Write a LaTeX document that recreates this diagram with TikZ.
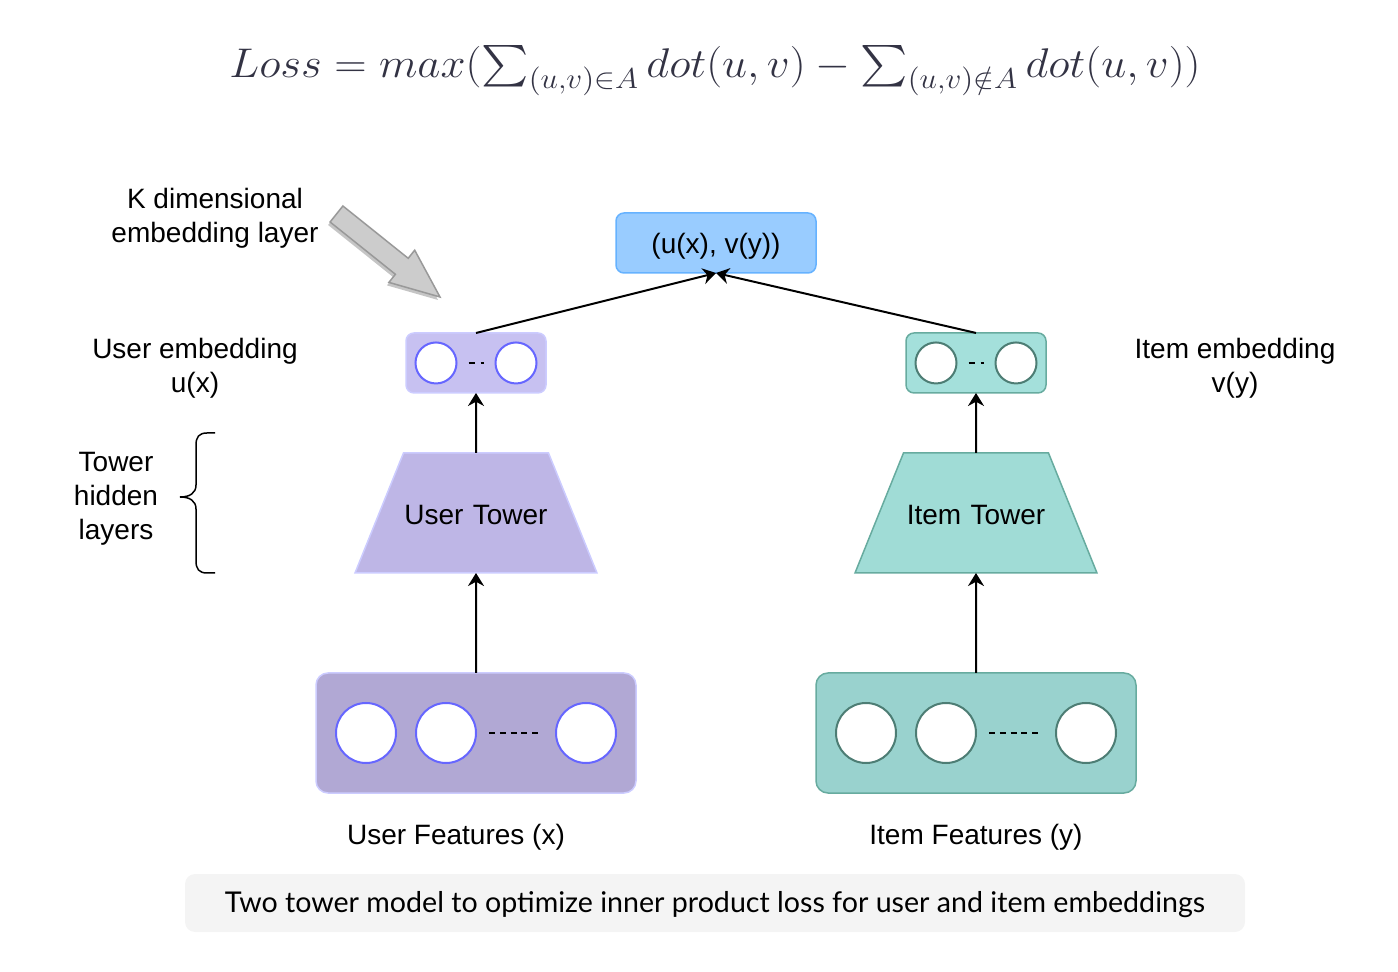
\documentclass[tikz,border=0pt]{standalone}
\usepackage{amsmath}
\usepackage{fontspec}
\setmainfont{Liberation Sans}
\newfontfamily\capfont{Lato}
\usetikzlibrary{shapes.geometric, arrows.meta, positioning, shadows}

\definecolor{lossink}{HTML}{333344}
\definecolor{outfill}{HTML}{99CCFF}
\definecolor{outline}{HTML}{66B2FF}
\definecolor{uline}{HTML}{CCCCFF}
\definecolor{ucircline}{HTML}{6666FF}
\definecolor{uembfill}{HTML}{C7C1F1}
\definecolor{utowerfill}{HTML}{BEB6E6}
\definecolor{ufeatfill}{HTML}{B1A8D4}
\definecolor{iline}{HTML}{67AB9F}
\definecolor{icircline}{HTML}{4D7D74}
\definecolor{iembfill}{HTML}{A4E0DB}
\definecolor{itowerfill}{HTML}{A0DCD6}
\definecolor{ifeatfill}{HTML}{99D2CE}
\definecolor{kfill}{HTML}{CCCCCC}
\definecolor{kline}{HTML}{999999}
\definecolor{capfill}{HTML}{F4F4F4}

\tikzstyle{formula} = [text=lossink, font=\fontsize{20.5}{24}\selectfont]
\tikzstyle{lbl} = [align=center, font=\fontsize{14}{17}\selectfont]
\tikzstyle{outbox} = [rectangle, rounded corners=4pt, minimum width=100pt, minimum height=30pt, text depth=0pt, outer sep=0pt, draw=outline, fill=outfill, line width=0.75pt, font=\fontsize{14}{17}\selectfont]
\tikzstyle{useremb} = [rectangle, rounded corners=4pt, minimum width=70pt, minimum height=30pt, outer sep=0pt, draw=uline, fill=uembfill, line width=0.75pt]
\tikzstyle{itememb} = [rectangle, rounded corners=4pt, minimum width=70pt, minimum height=30pt, outer sep=0pt, draw=iline, fill=iembfill, line width=0.75pt]
\tikzstyle{usertower} = [trapezium, trapezium angle=68, text width=72.5pt, align=center, text height=12pt, text depth=0pt, inner xsep=0pt, inner ysep=24pt, outer sep=0pt, draw=uline, fill=utowerfill, line width=0.75pt, font=\fontsize{14}{17}\selectfont]
\tikzstyle{itemtower} = [trapezium, trapezium angle=68, text width=72.5pt, align=center, text height=12pt, text depth=0pt, inner xsep=0pt, inner ysep=24pt, outer sep=0pt, draw=iline, fill=itowerfill, line width=0.75pt, font=\fontsize{14}{17}\selectfont]
\tikzstyle{userfeat} = [rectangle, rounded corners=6pt, minimum width=160pt, minimum height=60pt, outer sep=0pt, draw=uline, fill=ufeatfill, line width=0.75pt]
\tikzstyle{itemfeat} = [rectangle, rounded corners=6pt, minimum width=160pt, minimum height=60pt, outer sep=0pt, draw=iline, fill=ifeatfill, line width=0.75pt]
\tikzstyle{ucirc} = [circle, inner sep=0pt, draw=ucircline, fill=white, line width=1pt]
\tikzstyle{icirc} = [circle, inner sep=0pt, draw=icircline, fill=white, line width=1pt]
\tikzstyle{dashline} = [line width=1pt, dash pattern=on 3pt off 2.4pt]
\tikzstyle{arrow} = [line width=1pt, -{Stealth[length=6.5pt, width=8pt]}]
\tikzstyle{bigarrow} = [draw=kline, fill=kfill, line width=0.75pt, drop shadow={shadow xshift=-1pt, shadow yshift=-1.5pt, fill=black!45, opacity=0.5}]
\tikzstyle{capbox} = [rectangle, rounded corners=5pt, minimum width=530pt, minimum height=29pt, text depth=1pt, fill=capfill, font=\capfont\fontsize{14.3}{17}\selectfont]

\begin{document}
\begin{tikzpicture}[x=0.5pt, y=-0.5pt]
\useasboundingbox (0,0) rectangle (1398,972);

% Loss
\node (loss) [formula] at (715,71) {\scalebox{1.082}[1]{$Loss = max(\sum_{(u,v)\in A} dot(u,v) - \sum_{(u,v)\notin A} dot(u,v))$}};

% Feature boxes
\node (ufeat) [userfeat] at (476,733) {};
\node (ifeat) [itemfeat, right=90pt of ufeat] {};

% Towers
\node (utower) [usertower, above=50pt of ufeat] {User Tower};
\node (itower) [itemtower, above=50pt of ifeat] {Item Tower};

% Embeddings
\node (uemb) [useremb, above=30pt of utower] {};
\node (iemb) [itememb, above=30pt of itower] {};
\node (out) [outbox] at (716,243) {(u(x), v(y))};

% Circles
\node (uf1) [ucirc, minimum size=30pt] at ([xshift=-55pt]ufeat.center) {};
\node (uf2) [ucirc, minimum size=30pt] at ([xshift=-15pt]ufeat.center) {};
\node (uf3) [ucirc, minimum size=30pt] at ([xshift=55pt]ufeat.center) {};
\node (if1) [icirc, minimum size=30pt] at ([xshift=-55pt]ifeat.center) {};
\node (if2) [icirc, minimum size=30pt] at ([xshift=-15pt]ifeat.center) {};
\node (if3) [icirc, minimum size=30pt] at ([xshift=55pt]ifeat.center) {};
\node (ue1) [ucirc, minimum size=20.5pt] at ([xshift=-20pt]uemb.center) {};
\node (ue2) [ucirc, minimum size=20.5pt] at ([xshift=20pt]uemb.center) {};
\node (ie1) [icirc, minimum size=20.5pt] at ([xshift=-20pt]iemb.center) {};
\node (ie2) [icirc, minimum size=20.5pt] at ([xshift=20pt]iemb.center) {};

\draw [dashline, shorten <=6pt, shorten >=7pt] (uf2.east) -- (uf3.west);
\draw [dashline, shorten <=6pt, shorten >=7pt] (if2.east) -- (if3.west);
\draw [dashline, dash pattern=on 3pt off 3pt, shorten <=5.5pt, shorten >=5.5pt] (ue1.east) -- (ue2.west);
\draw [dashline, dash pattern=on 3pt off 3pt, shorten <=5.5pt, shorten >=5.5pt] (ie1.east) -- (ie2.west);

% Arrows
\draw [arrow] (ufeat) -- (utower);
\draw [arrow] (ifeat) -- (itower);
\draw [arrow] (utower) -- (uemb);
\draw [arrow] (itower) -- (iemb);
\draw [arrow] (uemb.north) -- (out.south);
\draw [arrow] (iemb.north) -- (out.south);

% Labels
\node (klbl) [lbl] at (215,218) {K dimensional\\embedding layer};
\draw [bigarrow] (342.9,206) -- (408.2,258.3) -- (414.7,250.2) -- (440,297) -- (388.9,282.4) -- (395.4,274.3) -- (330.1,222) -- cycle;
\node (uemblbl) [lbl] at (195,368) {User embedding\\u(x)};
\node (iemblbl) [lbl] at (1235,368) {Item embedding\\v(y)};
\node (hidlbl) [lbl] at (116,499) {Tower\\hidden\\layers};
\draw [line width=0.75pt] (215,433) -- (207,433) .. controls (199,433) and (196,437) .. (196,445) -- (196,485) .. controls (196,493) and (190,497) .. (180,497)
  .. controls (190,497) and (196,501) .. (196,509) -- (196,561) .. controls (196,569) and (199,573) .. (207,573) -- (215,573);
\node (ufeatlbl) [lbl] at (456,837) {User Features (x)};
\node (ifeatlbl) [lbl] at (976,837) {Item Features (y)};

% Caption
\node (caption) [capbox] at (715,903) {Two tower model to optimize inner product loss for user and item embeddings};

\end{tikzpicture}
\end{document}
